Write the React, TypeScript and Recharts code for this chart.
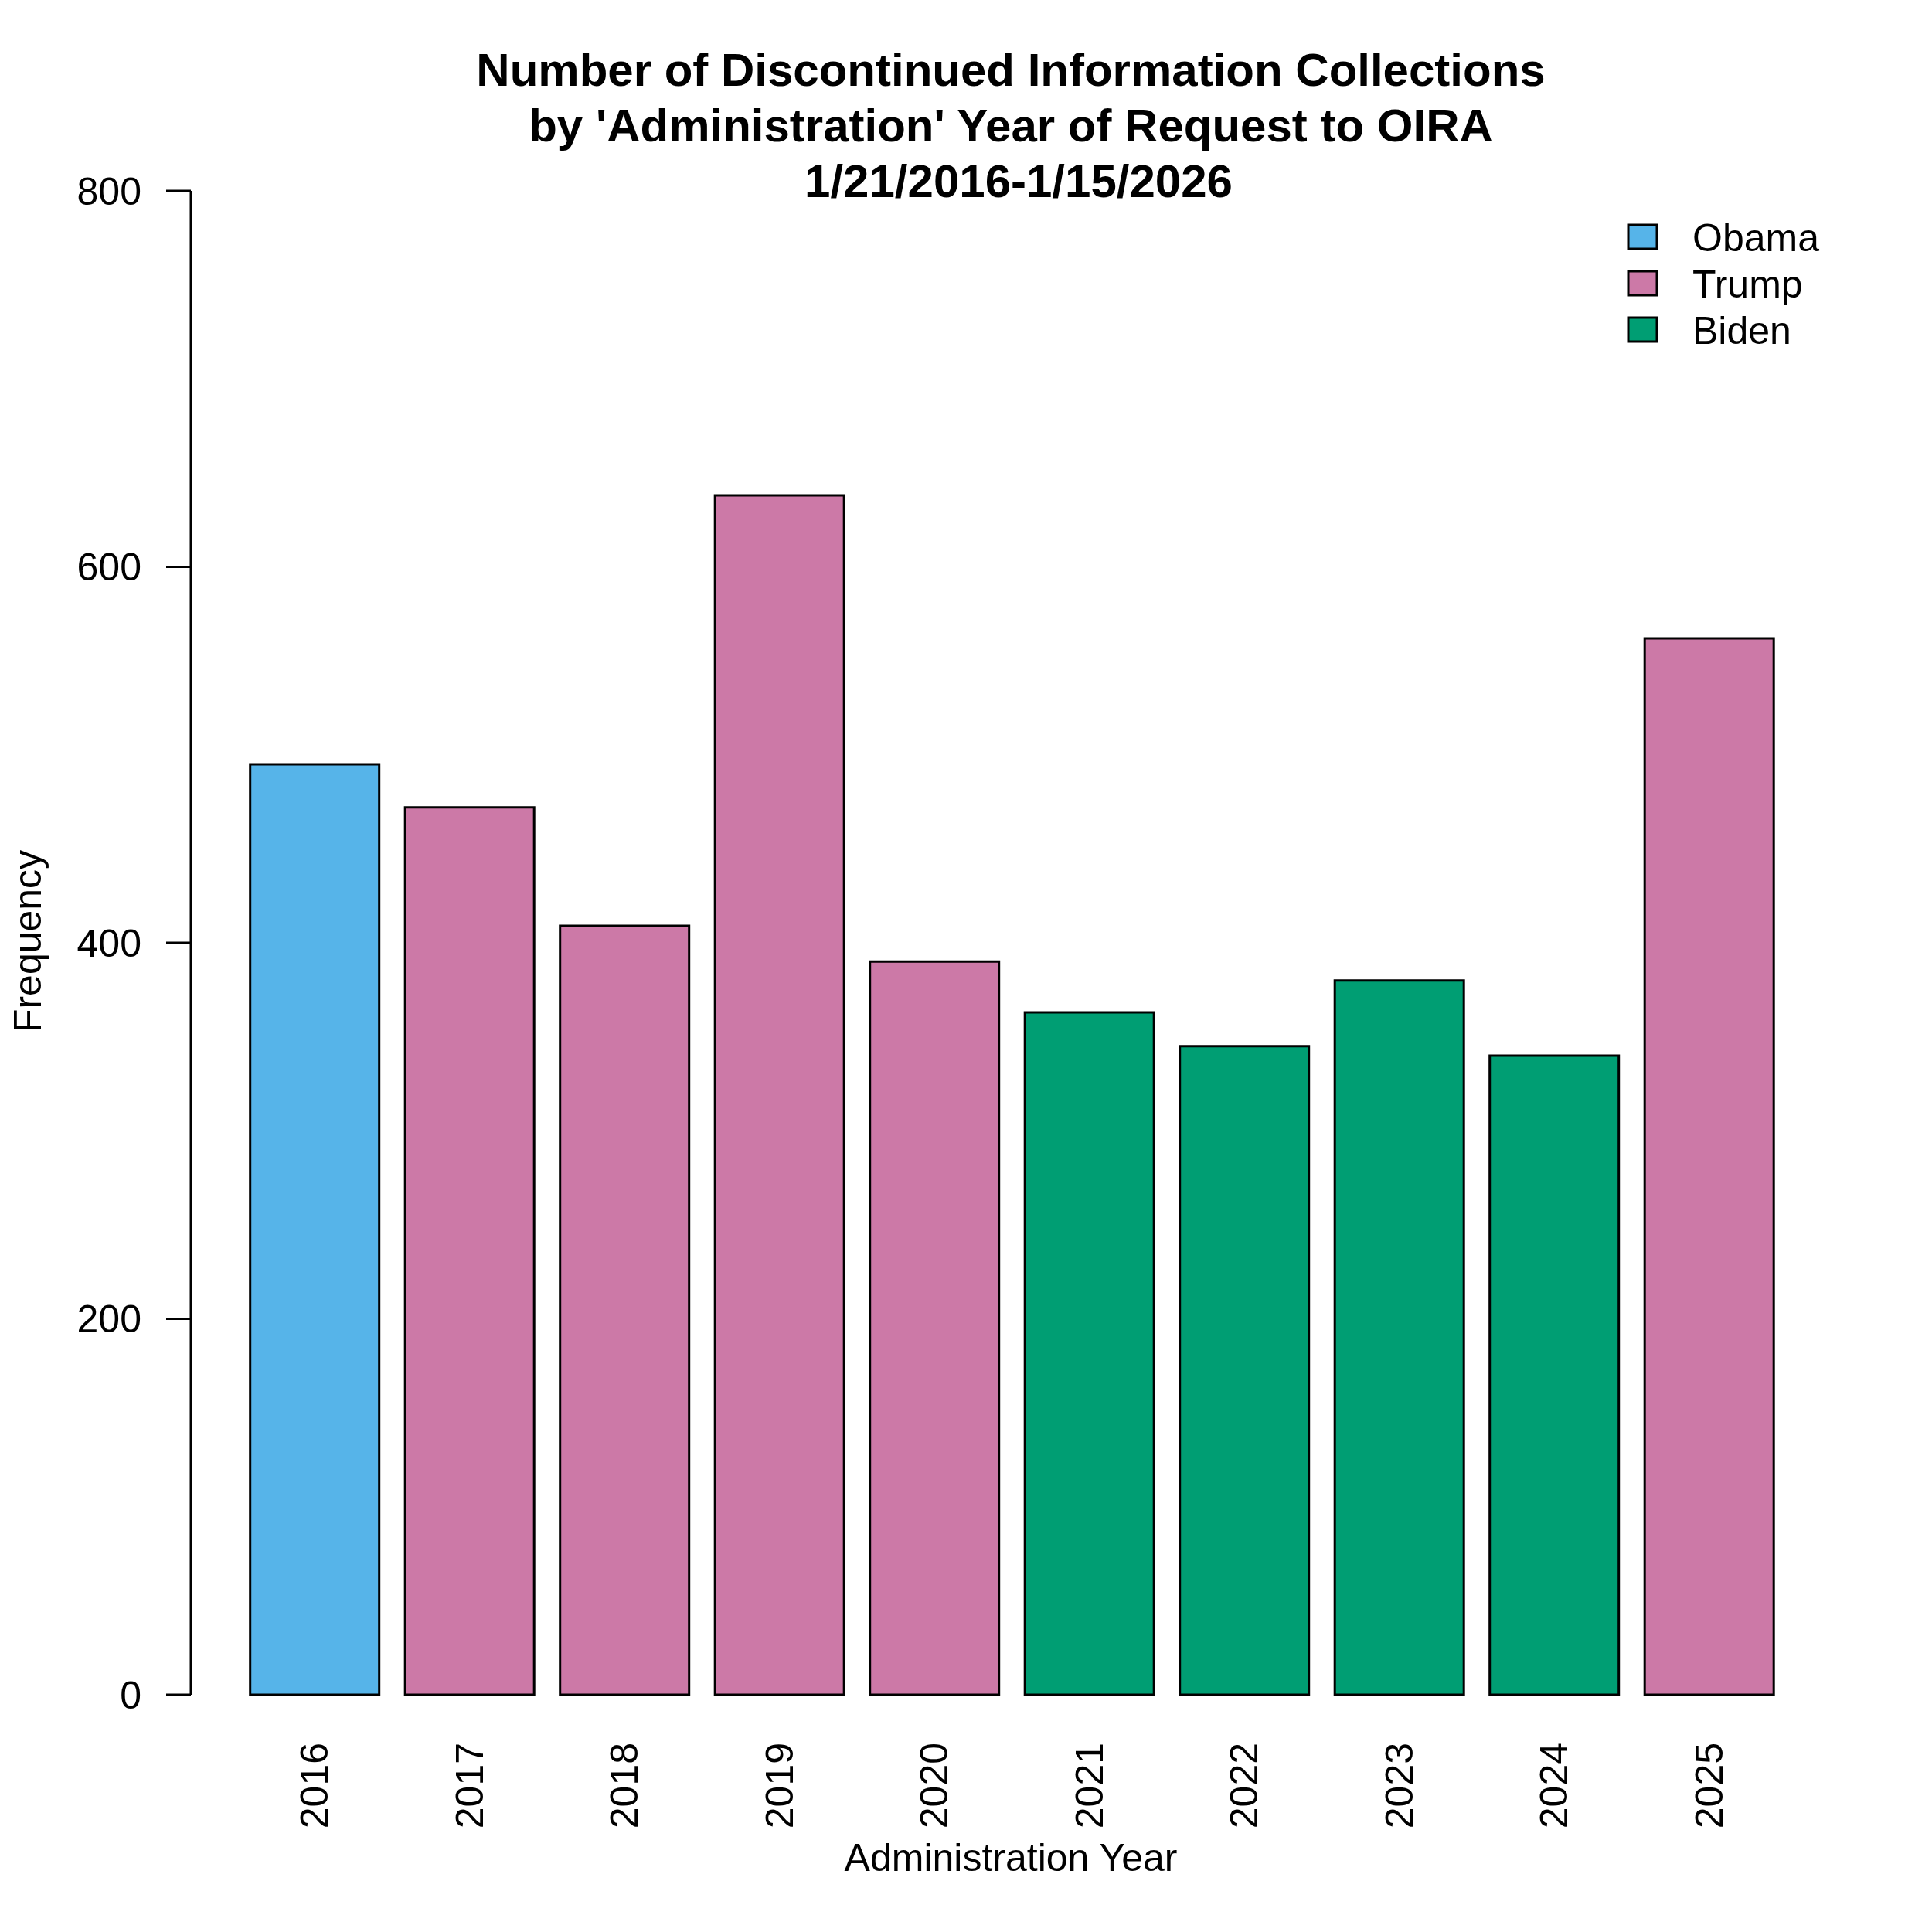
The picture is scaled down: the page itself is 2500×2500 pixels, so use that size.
import { BarChart, Bar, XAxis, YAxis, Cell } from "recharts";

const years = ["2016", "2017", "2018", "2019", "2020", "2021", "2022", "2023", "2024", "2025"];
const counts = [495, 472, 409, 638, 390, 363, 345, 380, 340, 562];
const admins = ["Obama", "Trump", "Trump", "Trump", "Trump", "Biden", "Biden", "Biden", "Biden", "Trump"];

const adminNames = ["Obama", "Trump", "Biden"];
const adminColors = ["#56B4E9", "#CC79A7", "#009E73"];

const yTicks = [0, 200, 400, 600, 800];

const titleLines = [
  "Number of Discontinued Information Collections",
  "by 'Administration' Year of Request to OIRA",
  "1/21/2016-1/15/2026",
];
// R's Arial centres the date line a little to the right
const titleShift = [0, 0, 10];

const FONT = "'Liberation Sans', Arial, Helvetica, sans-serif";

const data = years.map((year, i) => ({ year, count: counts[i], admin: admins[i] }));

const colorOf = (admin: string) => adminColors[adminNames.indexOf(admin)];

const YearTick = (props: any) => {
  const { x, y, payload } = props;
  return (
    <text
      x={x}
      y={y}
      transform={`rotate(-90, ${x}, ${y})`}
      textAnchor="end"
      dominantBaseline="central"
      fontSize={50}
      fontFamily={FONT}
      fill="#000"
    >
      {payload.value}
    </text>
  );
};

const App = () => {
  return (
    <div style={{ position: "absolute", left: 0, top: 0, width: 2500, height: 2500, background: "#fff" }}>
      <BarChart
        width={2500}
        height={2500}
        data={data}
        margin={{ top: 247, right: 126, bottom: 0, left: 0 }}
        barCategoryGap="8.33%"
      >
        <XAxis
          dataKey="year"
          height={307}
          padding={{ left: 60, right: 62 }}
          axisLine={false}
          tickLine={false}
          tickSize={0}
          tickMargin={62}
          interval={0}
          tick={<YearTick />}
        />
        <YAxis
          width={247}
          domain={[0, 800]}
          ticks={yTicks}
          interval={0}
          tickSize={32}
          tickMargin={32}
          axisLine={{ stroke: "#000", strokeWidth: 3 }}
          tickLine={{ stroke: "#000", strokeWidth: 3 }}
          tick={{ fontSize: 50, fontFamily: FONT, fill: "#000" }}
        />
        <Bar dataKey="count" stroke="#000" strokeWidth={3} isAnimationActive={false}>
          {data.map((d, i) => (
            <Cell key={`cell-${i}`} fill={colorOf(d.admin)} />
          ))}
        </Bar>
      </BarChart>

      {/* title, axis titles and legend, laid over the chart */}
      <svg
        width={2500}
        height={2500}
        style={{ position: "absolute", left: 0, top: 0, pointerEvents: "none" }}
        fontFamily={FONT}
      >
        {titleLines.map((line, i) => (
          <text
            key={line}
            x={1308 + titleShift[i]}
            y={111 + i * 72}
            textAnchor="middle"
            fontSize={60}
            fontWeight="bold"
            fill="#000"
          >
            {line}
          </text>
        ))}
        <text x={1308} y={2421} textAnchor="middle" fontSize={50} fill="#000">
          Administration Year
        </text>
        <text x={53} y={1218} transform="rotate(-90, 53, 1218)" textAnchor="middle" fontSize={50} fill="#000">
          Frequency
        </text>
        {adminNames.map((name, i) => (
          <g key={name}>
            <rect x={2107} y={291 + i * 60} width={37} height={31} fill={adminColors[i]} stroke="#000" strokeWidth={3} />
            <text x={2190} y={325 + i * 60} fontSize={50} fill="#000">
              {name}
            </text>
          </g>
        ))}
      </svg>
    </div>
  );
};

export default App;
